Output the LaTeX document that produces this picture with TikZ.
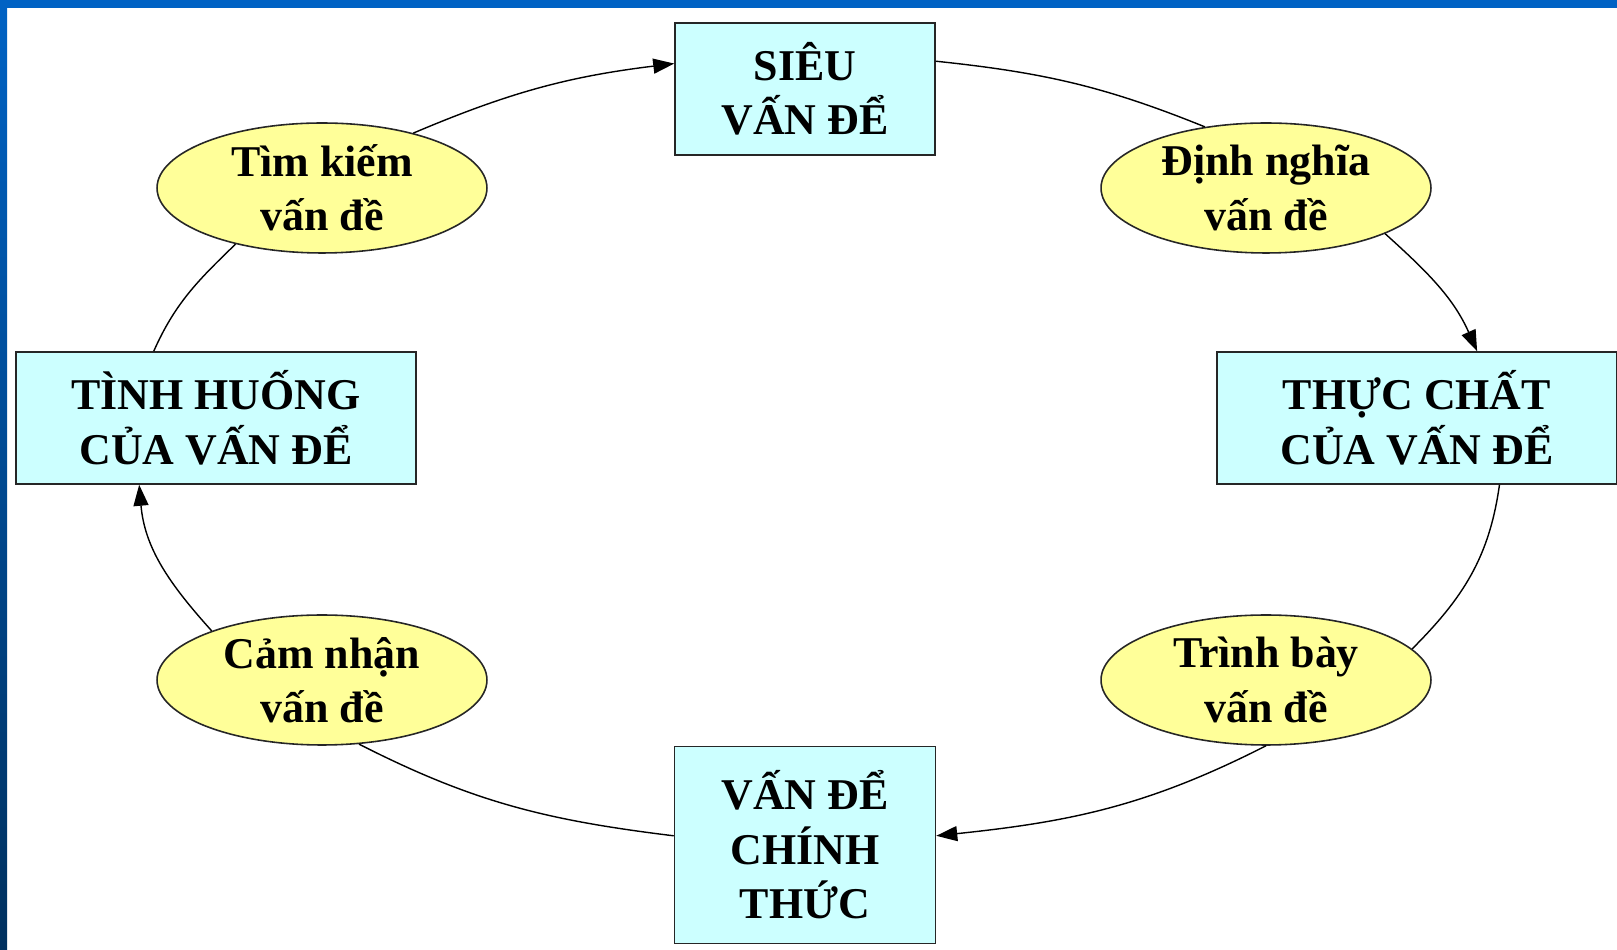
\documentclass[tikz,border=0pt]{standalone}
\usepackage{fontspec}
\setmainfont{Liberation Serif}
\usetikzlibrary{shapes.geometric,arrows.meta}
\definecolor{boxcyan}{HTML}{CCFFFF}
\definecolor{ovalyellow}{HTML}{FFFF99}
\definecolor{slideblue}{HTML}{0062C4}
\definecolor{slidedark}{HTML}{00305E}
\begin{document}
\begin{tikzpicture}[x=0.02cm,y=0.02cm,
  font=\bfseries\fontsize{25}{31}\selectfont,
  stage/.style={draw=black!85,line width=0.9pt,fill=boxcyan,align=center,
    inner sep=0pt,minimum height=2.64cm},
  task/.style={ellipse,draw=black!85,line width=0.9pt,fill=ovalyellow,align=center,
    inner sep=0pt,minimum width=6.6cm,minimum height=2.6cm},
  link/.style={line width=0.8pt},
  flow/.style={link,-{Triangle[length=0.42cm,width=0.3cm]}}]
  \useasboundingbox (0,0) rectangle (1617,950);
  \fill[white] (0,0) rectangle (1617,950);
  \shade[top color=slideblue,bottom color=slidedark] (0,0) rectangle (7,950);
  \fill[slideblue] (0,942) rectangle (1617,950);
  \node[stage,minimum width=5.2cm] (sieu) at (805,861) {SIÊU\\VẤN ĐỂ};
  \node[stage,minimum width=8cm] (tinh) at (216,532) {TÌNH HUỐNG\\CỦA VẤN ĐỂ};
  \node[stage,minimum width=8cm] (thuc) at (1417,532) {THỰC CHẤT\\CỦA VẤN ĐỂ};
  \node[stage,minimum width=5.22cm,minimum height=3.94cm] (chinh) at (805,105) {VẤN ĐỂ\\CHÍNH\\THỨC};
  \node[task] (tim) at (322,762) {Tìm kiếm\\vấn đề};
  \node[task] (dinh) at (1266,762) {Định nghĩa\\vấn đề};
  \node[task] (cam) at (322,270) {Cảm nhận\\vấn đề};
  \node[task] (trinh) at (1266,270) {Trình bày\\vấn đề};
  \draw[flow] (tim.31) to[out=23,in=187] (sieu.169);
  \draw[link] (sieu.12) to[out=-6,in=158] (dinh.135);
  \draw[flow] (dinh.-21) to[out=-42,in=114] (thuc.48);
  \draw[link] (thuc.-39) to[out=-98,in=45] (trinh.12);
  \draw[flow] (trinh.-90) to[out=207,in=6] (chinh.4);
  \draw[link] (chinh.176) to[out=173,in=-27] (cam.-60);
  \draw[flow] (cam.156) to[out=132,in=-85] (tinh.221);
  \draw[link] (tinh.133) to[out=66,in=-136] (tim.213);
\end{tikzpicture}
\end{document}
